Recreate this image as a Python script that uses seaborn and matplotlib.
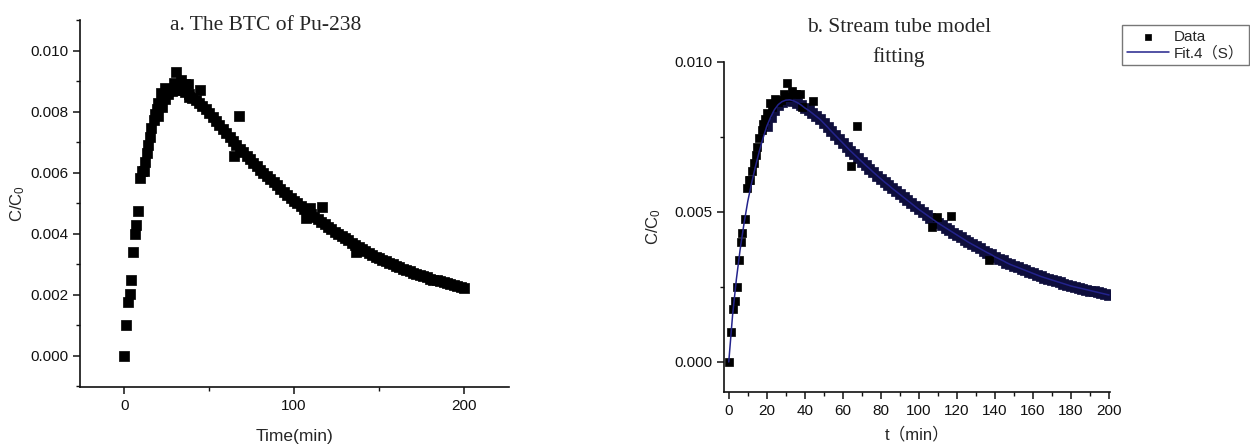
import numpy as np
import pandas as pd
import matplotlib
matplotlib.use("Agg")
import matplotlib.pyplot as plt
from matplotlib.ticker import MultipleLocator, FormatStrFormatter
import seaborn as sns

# ---------------- data ----------------
# measured points (time in min, C/C0)
data_t = [0, 1.3, 2.3, 3.3, 4.2, 5.2, 6.3, 7.2, 8.3, 9.4, 10.4, 11.4, 12.4, 13.2,
          14.2, 15.1, 16.0, 17.4, 18.0, 19.3, 20.2, 21.6, 22.5, 24.2, 26.0, 27.7,
          29.3, 30.4, 31.2, 33.3, 35.6, 37.4, 38.4, 44.4, 64.4, 67.5, 106.8,
          109.4, 116.7, 136.7]
data_c = [0.0, 0.00101, 0.00176, 0.00204, 0.00249, 0.00341, 0.0040, 0.00428,
          0.00476, 0.00581, 0.00606, 0.00606, 0.00635, 0.00664, 0.0069, 0.00717,
          0.00747, 0.00772, 0.00792, 0.00808, 0.00828, 0.00861, 0.00848, 0.00876,
          0.00867, 0.00872, 0.00894, 0.0093, 0.00883, 0.00902, 0.00891, 0.00891,
          0.00848, 0.0087, 0.00654, 0.00786, 0.0045, 0.00484, 0.00486, 0.00341]

# fitted curve (stream tube model), every 2 min from 0 to 200
fit_t = list(range(0, 201, 2))
fit_c = [0.0, 1.55, 2.75, 3.75, 4.60, 5.35, 5.95, 6.50, 7.00, 7.45,
         7.85, 8.15, 8.40, 8.57, 8.67, 8.72, 8.73, 8.70, 8.64, 8.56,
         8.46, 8.38, 8.28, 8.18, 8.08, 7.95, 7.82, 7.68, 7.55, 7.42,
         7.29, 7.16, 7.03, 6.91, 6.79, 6.67, 6.55, 6.44, 6.32, 6.21,
         6.10, 5.99, 5.89, 5.78, 5.68, 5.58, 5.48, 5.38, 5.28, 5.18,
         5.08, 4.99, 4.90, 4.81, 4.72, 4.63, 4.55, 4.47, 4.39, 4.31,
         4.23, 4.15, 4.07, 3.99, 3.92, 3.85, 3.78, 3.71, 3.64, 3.58,
         3.50, 3.44, 3.38, 3.31, 3.25, 3.20, 3.15, 3.10, 3.05, 3.00,
         2.95, 2.90, 2.85, 2.81, 2.77, 2.73, 2.69, 2.65, 2.61, 2.57,
         2.53, 2.50, 2.47, 2.44, 2.41, 2.38, 2.35, 2.32, 2.29, 2.26,
         2.23]
fit_c = [v / 1000.0 for v in fit_c]

data_df = pd.DataFrame({"t": data_t, "c": data_c})
fit_df = pd.DataFrame({"t": fit_t, "c": fit_c})
dense_df = fit_df[fit_df["t"] >= 20]

# ---------------- style ----------------
sns.set_style("ticks")
plt.rcParams["font.family"] = ["Liberation Sans", "Noto Sans CJK SC", "DejaVu Sans"]
plt.rcParams["mathtext.fontset"] = "custom"
plt.rcParams["mathtext.rm"] = "Liberation Sans"
plt.rcParams["mathtext.it"] = "Liberation Sans:italic"
plt.rcParams["axes.linewidth"] = 1.2
plt.rcParams["axes.edgecolor"] = "#111111"

fig = plt.figure(figsize=(12.5, 4.47), dpi=100)
W, H = 1250, 447
axL = fig.add_axes([80 / W, (H - 387) / H, (509 - 80) / W, (387 - 20) / H])
axR = fig.add_axes([724 / W, (H - 392) / H, (1110 - 724) / W, (392 - 61.7) / H])

# ---------------- left panel ----------------
sns.scatterplot(data=dense_df, x="t", y="c", ax=axL, marker="s", s=60,
                color="black", edgecolor="black", linewidth=0.5)
sns.scatterplot(data=data_df, x="t", y="c", ax=axL, marker="s", s=55,
                color="black", edgecolor="black", linewidth=0.5)
axL.set_xlim(-26, 226.5)
axL.set_ylim(-0.00102, 0.011)
axL.xaxis.set_major_locator(MultipleLocator(100))
axL.xaxis.set_minor_locator(MultipleLocator(50))
axL.yaxis.set_major_locator(MultipleLocator(0.002))
axL.yaxis.set_minor_locator(MultipleLocator(0.001))
axL.yaxis.set_major_formatter(FormatStrFormatter("%.3f"))
axL.set_xlabel("Time(min)", fontsize=12.5, labelpad=12)
axL.set_ylabel("C/C$_0$", fontsize=12, labelpad=2)
sns.despine(ax=axL)

# ---------------- right panel ----------------
sns.scatterplot(data=dense_df, x="t", y="c", ax=axR, marker="s", s=42,
                color="#0e0e3c", edgecolor="#0e0e3c", linewidth=0.5)
sns.scatterplot(data=data_df, x="t", y="c", ax=axR, marker="s", s=36,
                color="black", edgecolor="black", linewidth=0.5, label="Data")
sns.lineplot(data=fit_df, x="t", y="c", ax=axR, color="#23238c",
             linewidth=1.1, label="Fit.4（S）")
axR.set_xlim(-2.5, 200.5)
axR.set_ylim(-0.001, 0.010)
axR.xaxis.set_major_locator(MultipleLocator(20))
axR.xaxis.set_minor_locator(MultipleLocator(10))
axR.yaxis.set_major_locator(MultipleLocator(0.005))
axR.yaxis.set_minor_locator(MultipleLocator(0.0025))
axR.yaxis.set_major_formatter(FormatStrFormatter("%.3f"))
axR.set_xlabel("t（min）", fontsize=12, labelpad=6)
axR.set_ylabel("C/C$_0$", fontsize=12, labelpad=8)
sns.despine(ax=axR)

leg = axR.legend(loc="upper left", bbox_to_anchor=(1122 / W, (H - 25) / H),
                 bbox_transform=fig.transFigure, frameon=True, fancybox=False,
                 fontsize=11, handlelength=2.8, handletextpad=0.3,
                 borderpad=0.3, labelspacing=0.15, borderaxespad=0,
                 markerscale=0.8)
leg.get_frame().set_edgecolor("#555555")
leg.get_frame().set_linewidth(1.0)

for ax in (axL, axR):
    ax.tick_params(axis="both", which="major", direction="out", length=5,
                   width=1.1, labelsize=11, colors="#111111")
    ax.tick_params(axis="both", which="minor", direction="out", length=3,
                   width=1.0, colors="#111111")

# ---------------- titles ----------------
fig.text(266 / W, 1 - 25 / H, "a. The BTC of Pu-238", ha="center", va="center",
         fontsize=15.5, family=["Liberation Serif", "DejaVu Serif"])
fig.text(899 / W, 1 - 28 / H, "b. Stream tube model", ha="center", va="center",
         fontsize=15.5, family=["Liberation Serif", "DejaVu Serif"])
fig.text(899 / W, 1 - 57 / H, "fitting", ha="center", va="center",
         fontsize=15.5, family=["Liberation Serif", "DejaVu Serif"])

fig.savefig("out.png", dpi=100, facecolor="white")
